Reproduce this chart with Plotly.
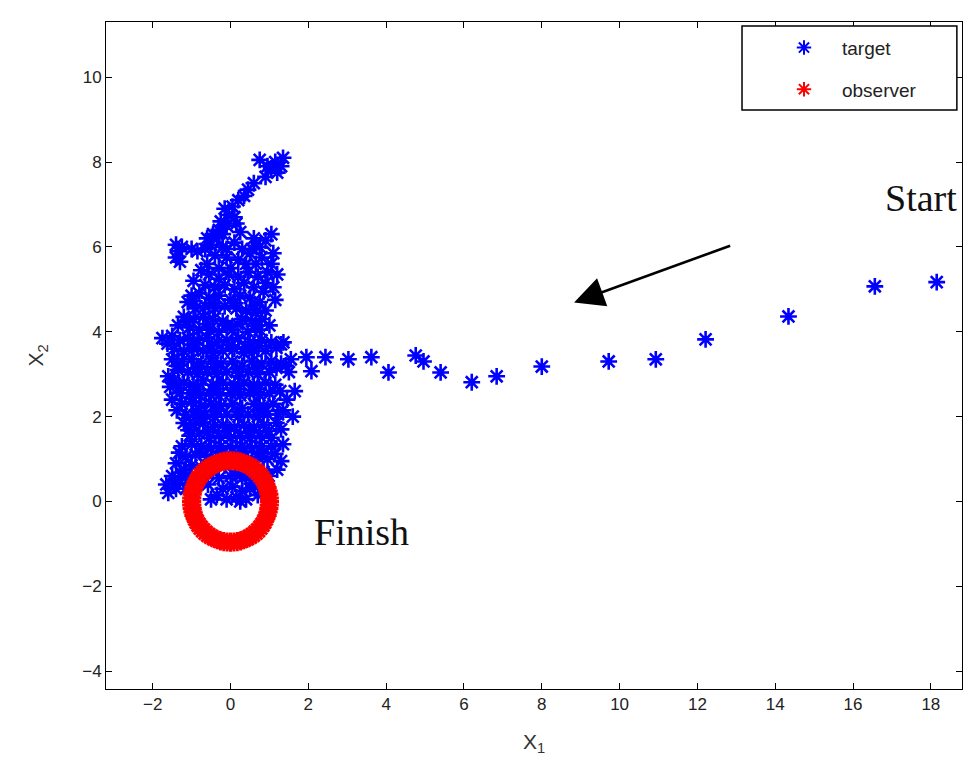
import plotly.graph_objects as go

# ---------------- data ----------------
# target trajectory: the long approach from the right ("Start") ...
tail_points = [
    (18.15, 5.17), (16.56, 5.07), (14.34, 4.36), (12.21, 3.82), (10.93, 3.35),
    (9.72, 3.30), (8.00, 3.18), (6.84, 2.95), (6.20, 2.81), (5.40, 3.04),
    (4.96, 3.30), (4.76, 3.44), (4.06, 3.04), (3.62, 3.40), (3.03, 3.35),
    (2.44, 3.40), (2.08, 3.07), (1.95, 3.40), (1.36, 3.75),
]
# ... and the dense wandering cluster near the observer
cluster_points = [
    # top cluster
    (0.75, 8.05), (0.95, 7.90), (1.15, 8.00), (1.35, 8.10), (1.20, 7.75), (0.90, 7.65),
    (1.05, 7.85), (1.30, 7.90),
    # strand
    (0.60, 7.50), (0.45, 7.35), (0.35, 7.20), (0.20, 7.10), (0.05, 6.95), (-0.15, 6.90),
    (-0.05, 6.75), (-0.25, 6.60), (0.10, 6.70), (-0.30, 6.40), (-0.10, 6.50), (-0.35, 6.20),
    (-0.20, 6.30), (0.15, 6.55),
    # left branch
    (-1.40, 6.05), (-1.35, 5.90), (-1.40, 5.75), (-1.25, 6.00), (-1.00, 5.95), (-0.85, 5.90),
    (-0.65, 5.95), (-1.30, 5.65),
    # right branch
    (1.05, 6.30), (0.90, 6.15), (0.75, 6.00), (1.10, 5.85), (0.50, 5.85), (0.65, 5.60),
    (0.95, 5.40), (1.20, 5.35), (1.05, 5.60),
    # y 5.5 - 6.2
    (-0.50, 6.05), (-0.20, 6.00), (0.10, 6.10), (0.30, 5.95), (-0.40, 5.80), (-0.10, 5.75),
    (0.20, 5.70), (0.40, 5.60), (-0.60, 5.60), (0.00, 5.50), (-0.30, 5.50), (0.80, 5.75),
    # y 5.0 - 5.5
    (-0.55, 5.35), (-0.30, 5.25), (-0.05, 5.35), (0.20, 5.30), (0.45, 5.40), (0.70, 5.30),
    (0.90, 5.15), (-0.65, 5.10), (-0.40, 5.05), (-0.15, 5.10), (0.10, 5.00), (0.35, 5.15),
    (0.60, 5.05), (0.85, 4.95),
    # y 4.5 - 5.0
    (-0.80, 4.90), (-0.55, 4.80), (-0.30, 4.85), (0.00, 4.75), (0.25, 4.85), (0.50, 4.80),
    (0.75, 4.70), (-1.10, 4.70), (-0.90, 4.55), (-0.65, 4.60), (-0.40, 4.55), (-0.15, 4.60),
    (0.15, 4.55), (0.40, 4.50), (0.65, 4.45), (0.90, 4.50),
    # y 4.0 - 4.5
    (-1.20, 4.35), (-0.95, 4.30), (-0.70, 4.35), (-0.45, 4.30), (-0.20, 4.25), (0.30, 4.30),
    (0.55, 4.25), (0.80, 4.30), (1.00, 4.15), (-1.05, 4.10), (-0.80, 4.05), (-0.55, 4.05),
    (-0.30, 4.00), (0.05, 4.05), (0.45, 4.00), (0.75, 4.05), (-1.35, 4.15),
    # y 3.5 - 4.0
    (-1.75, 3.85), (-1.50, 3.90), (-1.30, 3.80), (-1.10, 3.85), (-0.85, 3.80), (-0.60, 3.85),
    (-0.35, 3.75), (-0.10, 3.80), (0.20, 3.85), (0.50, 3.75), (0.80, 3.80), (1.05, 3.75),
    (1.30, 3.70), (-1.45, 3.60), (-1.20, 3.55), (-0.95, 3.60), (-0.70, 3.55), (-0.45, 3.50),
    (-0.20, 3.55), (0.10, 3.60), (0.35, 3.50), (0.60, 3.55), (0.90, 3.55),
    # y 3.0 - 3.5
    (-1.50, 3.35), (-1.25, 3.30), (-1.00, 3.35), (-0.75, 3.25), (-0.50, 3.30), (-0.25, 3.25),
    (0.05, 3.30), (0.30, 3.20), (0.55, 3.30), (0.80, 3.25), (1.05, 3.30), (1.30, 3.25),
    (1.55, 3.35), (-1.35, 3.10), (-1.10, 3.05), (-0.85, 3.00), (-0.60, 3.05), (-0.35, 3.00),
    (-0.10, 3.05), (0.20, 2.95), (0.45, 3.05), (0.70, 3.00), (1.00, 3.05), (1.50, 3.05),
    # y 2.5 - 3.0
    (-1.45, 2.85), (-1.20, 2.80), (-0.95, 2.75), (-0.70, 2.85), (-0.45, 2.75), (-0.20, 2.80),
    (0.10, 2.75), (0.35, 2.80), (0.60, 2.75), (0.90, 2.80), (1.15, 2.75), (-1.30, 2.55),
    (-1.05, 2.55), (-0.80, 2.50), (-0.55, 2.55), (-0.30, 2.50), (0.00, 2.55), (0.25, 2.50),
    (0.50, 2.55), (0.75, 2.50), (1.00, 2.55),
    # y 2.0 - 2.5
    (-1.50, 2.40), (-1.25, 2.30), (-1.00, 2.35), (-0.75, 2.25), (-0.50, 2.30), (-0.25, 2.25),
    (0.05, 2.30), (0.30, 2.20), (0.60, 2.30), (0.85, 2.25), (1.10, 2.30), (1.65, 2.60),
    (-1.15, 2.05), (-0.90, 2.00), (-0.65, 2.05), (-0.40, 2.00), (-0.10, 2.05), (0.20, 2.00),
    (0.45, 2.05), (0.70, 2.00), (0.95, 2.05), (1.60, 2.00), (1.35, 2.15),
    # y 1.5 - 2.0
    (-1.20, 1.85), (-0.95, 1.80), (-0.70, 1.85), (-0.45, 1.75), (-0.20, 1.80), (0.10, 1.75),
    (0.35, 1.80), (0.60, 1.75), (0.85, 1.80), (1.30, 1.70), (-1.05, 1.55), (-0.80, 1.60),
    (-0.55, 1.50), (-0.30, 1.55), (0.00, 1.50), (0.25, 1.55), (0.50, 1.50), (0.75, 1.55),
    (1.05, 1.50),
    # y 1.0 - 1.5
    (-1.25, 1.30), (-1.00, 1.35), (-0.75, 1.30), (-0.50, 1.25), (-0.25, 1.30), (0.05, 1.25),
    (0.30, 1.30), (0.55, 1.25), (0.80, 1.30), (1.05, 1.30), (-1.15, 1.05), (-0.90, 1.10),
    (-0.60, 1.05), (-0.35, 1.00), (-0.10, 1.10), (0.20, 1.05), (0.45, 1.00), (0.70, 1.05),
    (0.95, 1.00),
    # y 0.5 - 1.0
    (-1.40, 0.90), (-1.20, 0.75), (-1.00, 0.85), (-0.75, 0.80), (-0.45, 0.75), (-0.15, 0.85),
    (0.15, 0.80), (0.40, 0.75), (0.65, 0.85), (0.85, 0.70), (1.20, 0.75), (-1.50, 0.60),
    (-1.30, 0.50), (-1.05, 0.55), (-0.30, 0.55), (0.00, 0.60), (0.30, 0.55), (0.55, 0.50),
    # y 0 - 0.5
    (-1.60, 0.20), (-1.40, 0.30), (-1.15, 0.30), (-0.20, 0.30), (0.05, 0.35), (0.30, 0.25),
    (0.50, 0.30), (0.70, 0.15), (-0.10, 0.05), (0.15, 0.10), (0.40, 0.05), (-0.35, 0.15),
    # in-between revisits
    (-0.95, 5.20), (-0.75, 5.45), (1.10, 5.05), (1.15, 4.75), (-1.00, 4.85), (-0.10, 5.95),
    (0.55, 5.95), (0.60, 6.20), (-0.45, 6.30), (0.25, 6.35), (-0.60, 6.20),
    (-0.42, 4.68), (0.12, 4.67), (0.62, 4.62), (-0.93, 4.72),
    (-0.58, 4.18), (-0.08, 4.15), (0.18, 4.18), (0.66, 4.14), (-1.12, 4.22),
    (-1.62, 3.72), (-0.97, 3.70), (-0.48, 3.66), (0.03, 3.68), (0.37, 3.64), (0.72, 3.67), (1.18, 3.62),
    (-1.38, 3.20), (-0.87, 3.14), (-0.38, 3.16), (0.17, 3.12), (0.67, 3.14), (1.18, 3.15), (1.42, 3.20),
    (-1.33, 2.68), (-0.83, 2.64), (-0.33, 2.66), (0.22, 2.65), (0.73, 2.66), (1.28, 2.60),
    (-1.38, 2.15), (-0.88, 2.13), (-0.38, 2.14), (0.18, 2.12), (0.72, 2.16), (1.22, 2.05),
    (-1.08, 1.68), (-0.58, 1.64), (-0.08, 1.66), (0.48, 1.64), (0.98, 1.66), (1.18, 1.85),
    (-1.32, 1.15), (-0.78, 1.17), (-0.23, 1.14), (0.32, 1.16), (0.82, 1.15), (1.15, 1.12),
    (-1.28, 0.68), (-0.60, 0.65), (0.28, 0.65), (0.98, 0.60), (-1.45, 0.42), (-0.58, 0.40), (0.62, 0.38),
    (-1.60, 2.95), (-1.55, 2.70), (-1.65, 0.40), (1.45, 2.40), (1.35, 1.35), (1.30, 0.95),
    (-0.50, 0.05), (0.25, 0.00),
]
target_x = [p[0] for p in tail_points + cluster_points]
target_y = [p[1] for p in tail_points + cluster_points]

# observer: circling the origin
observer_x = [
    1.0, 0.996, 0.985, 0.966, 0.94, 0.906, 0.866, 0.819, 0.766, 0.707, 0.643, 0.574, 0.5, 0.423, 0.342, 0.259, 0.174, 0.087,
    0.0, -0.087, -0.174, -0.259, -0.342, -0.423, -0.5, -0.574, -0.643, -0.707, -0.766, -0.819, -0.866, -0.906, -0.94, -0.966, -0.985, -0.996,
    -1.0, -0.996, -0.985, -0.966, -0.94, -0.906, -0.866, -0.819, -0.766, -0.707, -0.643, -0.574, -0.5, -0.423, -0.342, -0.259, -0.174, -0.087,
    0.0, 0.087, 0.174, 0.259, 0.342, 0.423, 0.5, 0.574, 0.643, 0.707, 0.766, 0.819, 0.866, 0.906, 0.94, 0.966, 0.985, 0.996,
]
observer_y = [
    0.0, 0.084, 0.167, 0.249, 0.328, 0.406, 0.48, 0.551, 0.617, 0.679, 0.735, 0.786, 0.831, 0.87, 0.902, 0.927, 0.946, 0.956,
    0.96, 0.956, 0.946, 0.927, 0.902, 0.87, 0.831, 0.786, 0.735, 0.679, 0.617, 0.551, 0.48, 0.406, 0.328, 0.249, 0.167, 0.084,
    0.0, -0.084, -0.167, -0.249, -0.328, -0.406, -0.48, -0.551, -0.617, -0.679, -0.735, -0.786, -0.831, -0.87, -0.902, -0.927, -0.946, -0.956,
    -0.96, -0.956, -0.946, -0.927, -0.902, -0.87, -0.831, -0.786, -0.735, -0.679, -0.617, -0.551, -0.48, -0.406, -0.328, -0.249, -0.167, -0.084,
]

x_ticks = [-2, 0, 2, 4, 6, 8, 10, 12, 14, 16, 18]
y_ticks = [-4, -2, 0, 2, 4, 6, 8, 10]

# ---------------- figure ----------------
fig = go.Figure()
fig.add_trace(go.Scatter(
    x=target_x, y=target_y, mode="markers", name="target", showlegend=False,
    marker=dict(symbol="asterisk-open", size=14, color="#0000ff",
                line=dict(color="#0000ff", width=2.6)),
))
fig.add_trace(go.Scatter(
    x=observer_x, y=observer_y, mode="markers", name="observer", showlegend=False,
    marker=dict(symbol="asterisk-open", size=16, color="#ff0000",
                line=dict(color="#ff0000", width=3)),
))
# legend entries (same styling, legend-sized markers)
fig.add_trace(go.Scatter(
    x=[None], y=[None], mode="markers", name="target", legendgroup="a",
    marker=dict(symbol="asterisk-open", size=12, color="#0000ff",
                line=dict(color="#0000ff", width=2)),
))
fig.add_trace(go.Scatter(
    x=[None], y=[None], mode="markers", name="observer", legendgroup="b",
    marker=dict(symbol="asterisk-open", size=12, color="#ff0000",
                line=dict(color="#ff0000", width=2)),
))

tick_font = dict(family="Liberation Sans, Arial, sans-serif", size=17, color="#222222")
axis_common = dict(
    showline=True, linecolor="black", linewidth=1, mirror="ticks",
    ticks="inside", ticklen=6, tickwidth=1, tickcolor="black",
    showgrid=False, zeroline=False, tickfont=tick_font,
)
fig.update_xaxes(range=[-3.2, 18.8], tickvals=x_ticks, **axis_common,
                 title=dict(text="X<sub>1</sub>", font=dict(family="Liberation Sans, Arial, sans-serif",
                                                          size=21, color="#333333"), standoff=20))
fig.update_yaxes(range=[-4.42, 11.3], tickvals=y_ticks, **axis_common,
                 title=dict(text="X<sub>2</sub>", font=dict(family="Liberation Sans, Arial, sans-serif",
                                                          size=21, color="#333333"), standoff=32))

serif = dict(family="Liberation Serif, Times New Roman, serif", size=38, color="#111111")
fig.add_annotation(x=17.74, y=7.15, xref="x", yref="y", text="Start", showarrow=False, font=serif)
fig.add_annotation(x=3.37, y=-0.73, xref="x", yref="y", text="Finish", showarrow=False, font=serif)
fig.add_annotation(x=8.83, y=4.69, ax=12.88, ay=6.04, xref="x", yref="y", axref="x", ayref="y",
                   text="", showarrow=True, arrowhead=2, arrowsize=2.3, arrowwidth=2.6,
                   arrowcolor="black")

# legend box
fig.add_shape(type="rect", xref="paper", yref="paper", x0=0.743, x1=0.994, y0=0.868, y1=0.994,
              line=dict(color="black", width=1.5), fillcolor="white", layer="above")

fig.update_layout(
    width=968, height=766,
    margin=dict(l=106, r=6, t=22, b=77),
    plot_bgcolor="white", paper_bgcolor="white",
    showlegend=True,
    legend=dict(x=0.771, y=0.99, xanchor="left", yanchor="top", bgcolor="rgba(0,0,0,0)",
                font=dict(family="Liberation Sans, Arial, sans-serif", size=19, color="#222222"),
                tracegroupgap=14, traceorder="grouped", itemwidth=66),
)

fig.write_html("out.html")
